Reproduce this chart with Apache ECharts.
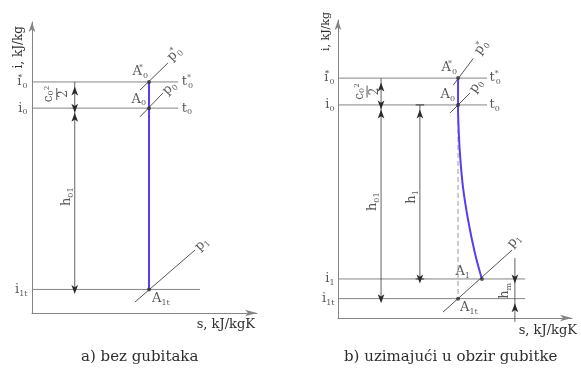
<!DOCTYPE html>
<html>
<head>
<meta charset="utf-8">
<script src="https://cdn.jsdelivr.net/npm/echarts@6/dist/echarts.min.js"></script>
<style>
  html, body { margin: 0; padding: 0; background: #fff; }
  #chart { width: 581px; height: 374px; }
</style>
</head>
<body>
<div id="chart"></div>
<script>
// ---- a) expansion without losses (isentropic) ----
const levelNamesA = ['i0*', 'i0', 'i1t'];
const levelsA = [79.4, 70.4, 8.1];          // enthalpy levels
const levelEndA = [65, 65, 74.7];           // entropy where each level line stops
const stateNamesA = ['A0*', 'A0', 'A1t'];
const sA = 52;                              // entropy of the isentropic expansion
const isobarNames = ['p0*', 'p0', 'p1'];
const isobarsA = [
  [[48, 76.6], [60.4, 85.9]],
  [[48, 67.4], [58.2, 75.6]],
  [[45.8, 3.8], [72.4, 21.6]]
];

// ---- b) expansion with losses ----
const levelNamesB = ['i0*', 'i0', 'i1', 'i1t'];
const levelsB = [80.5, 71.5, 13.1, 6.5];
const levelEndB = [63.7, 63.7, 80, 80];
const stateNamesB = ['A0*', 'A0', 'A1', 'A1t'];
const sB = 51.3;
const expansionS = [51.3, 51.4, 52.1, 53.4, 55.6, 58.5, 61.5];
const expansionI = [71.5, 66.4, 55.4, 44.0, 32.9, 21.8, 13.1];
const isobarsB = [
  [[49.3, 78.2], [57.8, 87.1]],
  [[47.9, 68.8], [56.4, 75.5]],
  [[44.9, 2.0], [74.4, 22.8]]
];

const FONT = "'DejaVu Serif', 'Liberation Serif', serif";
const INK = '#2e2e2e';
const GRID_LINE = '#858585';
const BLUE = '#5a3df0';

const rich = {
  sub: { fontFamily: FONT, fontSize: 8, color: INK, verticalAlign: 'bottom', lineHeight: 8 },
  st:  { fontFamily: FONT, fontSize: 8, color: INK, verticalAlign: 'top', lineHeight: 8, width: 1 },
  sup: { fontFamily: FONT, fontSize: 7, color: INK, verticalAlign: 'top', lineHeight: 7 },
  bar: { width: 12, height: 1, lineHeight: 3, backgroundColor: INK, fontSize: 1 },
  big: { fontFamily: FONT, fontSize: 12, color: INK, lineHeight: 12 }
};

// "i0*" -> i with subscript 0 and a star above
function symText(name) {
  const star = name.endsWith('*');
  const core = star ? name.slice(0, -1) : name;
  const main = core[0];
  const sub = core.slice(1);
  return main + (star ? '{st|*}' : '') + (sub ? '{sub|' + sub + '}' : '');
}

// label offsets are given on screen; rotated labels take them in their own frame
function rotOffset(theta, dx, dy) {
  const r = theta * Math.PI / 180, c = Math.cos(r), s = Math.sin(r);
  return [dx * c - dy * s, dx * s + dy * c];
}

function label(text, extra) {
  const cfg = Object.assign({
    show: true, formatter: text, fontFamily: FONT, fontSize: 13, color: INK,
    lineHeight: 16, rich: rich
  }, extra);
  if (cfg.rotate && cfg.offset) cfg.offset = rotOffset(cfg.rotate, cfg.offset[0], cfg.offset[1]);
  return cfg;
}

function line(g, pts, style, extra) {
  return Object.assign({
    type: 'line', xAxisIndex: g, yAxisIndex: g, data: pts, symbol: 'none',
    lineStyle: Object.assign({ color: GRID_LINE, width: 1 }, style),
    silent: true, animation: false
  }, extra);
}

// dimension line; heads: 'up' | 'down' | null for every point
function dimension(g, pts, heads) {
  return {
    type: 'line', xAxisIndex: g, yAxisIndex: g, silent: true, animation: false,
    clip: false, showAllSymbol: true,
    symbolOffset: [0, '50%'],
    lineStyle: { color: '#3a3a3a', width: 0.8 },
    itemStyle: { color: '#2a2a2a' },
    data: pts.map((p, k) => heads[k]
      ? { value: p, symbol: 'arrow', symbolSize: [5, 9], symbolRotate: heads[k] === 'up' ? 0 : 180 }
      : { value: p, symbol: 'none' })
  };
}

function anchors(g, items) {
  return {
    type: 'scatter', xAxisIndex: g, yAxisIndex: g, silent: true, animation: false,
    symbolSize: 1, itemStyle: { color: 'rgba(0,0,0,0)' }, clip: false, z: 5,
    data: items.map(it => ({ value: it[0], label: it[1] }))
  };
}

function points(g, items) {
  return {
    type: 'scatter', xAxisIndex: g, yAxisIndex: g, silent: true, animation: false,
    symbolSize: 4, itemStyle: { color: '#333' }, z: 6,
    data: items.map(it => ({ value: it[0], label: it[1] }))
  };
}

const fraction = '{big|c}{sub|0}{sup|2}\n{bar| }\n{big|2}';

const series = [];

// ---------- panel a ----------
const dimA = 19;
levelsA.forEach((lv, k) => series.push(line(0, [[0, lv], [levelEndA[k], lv]])));
isobarsA.forEach(seg => series.push(line(0, seg, { color: '#555' })));
series.push(line(0, [[sA, levelsA[0]], [sA, levelsA[2]]], { color: BLUE, width: 2 }, { z: 4 }));
series.push(dimension(0, [[dimA, levelsA[0]], [dimA, levelsA[1]]], ['up', 'down']));
series.push(dimension(0, [[dimA, levelsA[1]], [dimA, levelsA[2]]], ['up', 'down']));
series.push(points(0, [
  [[sA, levelsA[0]], label(symText(stateNamesA[0]), { position: 'left', distance: 0, offset: [1, -10] })],
  [[sA, levelsA[1]], label(symText(stateNamesA[1]), { position: 'left', distance: 0, offset: [-1, -9] })],
  [[sA, levelsA[2]], label(symText(stateNamesA[2]), { position: 'right', distance: 1, offset: [0, 9] })]
]));
series.push(anchors(0, [
  ...levelsA.map((lv, k) => [[0, lv], label(symText(levelNamesA[k]), { position: 'left', distance: 4 })]),
  [[levelEndA[0], levelsA[0]], label(symText('t0*'), { position: 'right', distance: 3 })],
  [[levelEndA[1], levelsA[1]], label(symText('t0'), { position: 'right', distance: 3 })],
  [isobarsA[0][1], label(symText(isobarNames[0]), { position: 'inside', rotate: 45, offset: [6.5, -9] })],
  [isobarsA[1][1], label(symText(isobarNames[1]), { position: 'inside', rotate: 45, offset: [6.5, -5] })],
  [isobarsA[2][1], label(symText(isobarNames[2]), { position: 'inside', rotate: 45, offset: [7, -6] })],
  [[dimA, (levelsA[0] + levelsA[1]) / 2], label(fraction, { position: 'inside', rotate: 90, offset: [-18, -1], lineHeight: 10 })],
  [[dimA, (levelsA[1] + levelsA[2]) / 2], label('h{sub|01}', { position: 'inside', rotate: 90, offset: [-8, -2] })]
]));

// ---------- panel b ----------
const dimB = 18.4, dimH1 = 35, dimHm = 75.6;
levelsB.forEach((lv, k) => series.push(line(1, [[0, lv], [levelEndB[k], lv]])));
isobarsB.forEach(seg => series.push(line(1, seg, { color: '#555' })));
series.push(line(1, [[sB, levelsB[1]], [sB, levelsB[3]]], { color: '#9a9a9a', type: [5, 3] }));
series.push(line(1, [[sB, levelsB[0]], [sB, levelsB[1]]], { color: BLUE, width: 2 }, { z: 4 }));
series.push(line(1, expansionS.map((s, k) => [s, expansionI[k]]), { color: BLUE, width: 2 }, { z: 4, smooth: 0.4 }));
series.push(dimension(1, [[dimB, levelsB[0]], [dimB, levelsB[1]]], ['up', 'down']));
series.push(dimension(1, [[dimB, levelsB[1]], [dimB, levelsB[3]]], ['up', 'down']));
series.push(dimension(1, [[dimH1, levelsB[1]], [dimH1, levelsB[2]]], ['up', 'down']));
series.push(line(1, [[dimH1 - 1.8, levelsB[1]], [dimH1 + 1.8, levelsB[1]]], { color: '#333' }));
series.push(line(1, [[dimH1 - 1.8, levelsB[2]], [dimH1 + 1.8, levelsB[2]]], { color: '#333' }));
series.push(dimension(1, [[dimHm, 20.1], [dimHm, levelsB[2]], [dimHm, levelsB[3]], [dimHm, -1.3]], [null, 'down', 'up', null]));
series.push(points(1, [
  [[sB, levelsB[0]], label(symText(stateNamesB[0]), { position: 'left', distance: 0, offset: [1, -10] })],
  [[sB, levelsB[1]], label(symText(stateNamesB[1]), { position: 'left', distance: 0, offset: [-1, -10] })],
  [[expansionS[expansionS.length - 1], levelsB[2]], label(symText(stateNamesB[2]), { position: 'left', distance: 10, offset: [0, -7] })],
  [[sB, levelsB[3]], label(symText(stateNamesB[3]), { position: 'right', distance: 0, offset: [0, 9] })]
]));
series.push(anchors(1, [
  ...levelsB.map((lv, k) => [[0, lv], label(symText(levelNamesB[k]), { position: 'left', distance: 3 })]),
  [[levelEndB[0], levelsB[0]], label(symText('t0*'), { position: 'right', distance: 2 })],
  [[levelEndB[1], levelsB[1]], label(symText('t0'), { position: 'right', distance: 2 })],
  [isobarsB[0][1], label(symText(isobarNames[0]), { position: 'inside', rotate: 55, offset: [8, -11] })],
  [isobarsB[1][1], label(symText(isobarNames[1]), { position: 'inside', rotate: 55, offset: [6, -7] })],
  [isobarsB[2][1], label(symText(isobarNames[2]), { position: 'inside', rotate: 50, offset: [2, -9] })],
  [[dimB, (levelsB[0] + levelsB[1]) / 2], label(fraction, { position: 'inside', rotate: 90, offset: [-14, 0], lineHeight: 10 })],
  [[dimB, (levelsB[1] + levelsB[3]) / 2], label('h{sub|01}', { position: 'inside', rotate: 90, offset: [-8, 0] })],
  [[dimH1, (levelsB[1] + levelsB[2]) / 2], label('h{sub|1}', { position: 'inside', rotate: 90, offset: [-8, 5] })],
  [[dimHm, (levelsB[2] + levelsB[3]) / 2], label('h{sub|m}', { position: 'inside', rotate: 90, offset: [-10, 2] })]
]));

function axisX(g, gap, pad) {
  return {
    gridIndex: g, type: 'value', min: 0, max: 100,
    axisLine: { show: true, symbol: ['none', 'arrow'], symbolSize: [5, 12], lineStyle: { color: GRID_LINE, width: 1 } },
    axisTick: { show: false }, axisLabel: { show: false }, splitLine: { show: false },
    name: 's, kJ/kgK', nameLocation: 'end', nameGap: gap,
    nameTextStyle: { fontFamily: FONT, fontSize: 13, color: INK, align: 'right', verticalAlign: 'top', padding: [pad, 0, 0, 0] }
  };
}
function axisY(g, gap, pad, size) {
  return {
    gridIndex: g, type: 'value', min: 0, max: 100,
    axisLine: { show: true, symbol: ['none', 'arrow'], symbolSize: [5, 10], lineStyle: { color: GRID_LINE, width: 1 } },
    axisTick: { show: false }, axisLabel: { show: false }, splitLine: { show: false },
    name: 'i, kJ/kg', nameLocation: 'end', nameRotate: 90, nameGap: gap,
    nameTextStyle: { fontFamily: FONT, fontSize: size, color: INK, align: 'right', verticalAlign: 'bottom', padding: [0, 0, pad, 0] }
  };
}

const chart = echarts.init(document.getElementById('chart'), null, { renderer: 'canvas' });
chart.setOption({
  backgroundColor: '#fff',
  animation: false,
  title: [
    { text: 'a) bez gubitaka', left: 81, top: 350, padding: 0,
      textStyle: { fontFamily: FONT, fontSize: 15, fontWeight: 'normal', color: INK } },
    { text: 'b) uzimajući u obzir gubitke', left: 344, top: 350, padding: 0,
      textStyle: { fontFamily: FONT, fontSize: 15, fontWeight: 'normal', color: INK } }
  ],
  grid: [
    { left: 32, right: 324, top: 22, bottom: 61 },
    { left: 338, right: 9, top: 20, bottom: 56 }
  ],
  xAxis: [axisX(0, -2, 5), axisX(1, 5, 6)],
  yAxis: [axisY(0, -4, 7, 12), axisY(1, 8, 6, 11)],
  series: series
});
</script>
</body>
</html>
